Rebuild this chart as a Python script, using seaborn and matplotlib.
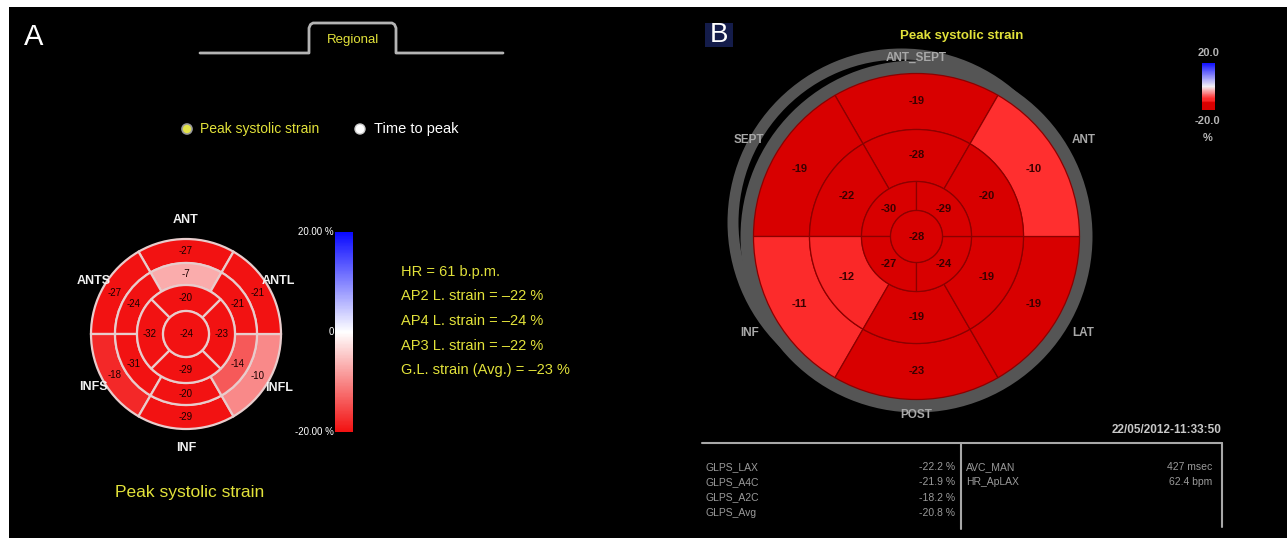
import numpy as np
import matplotlib
matplotlib.use("Agg")
import matplotlib.pyplot as plt
from matplotlib.patches import Wedge, Circle, Rectangle
from matplotlib.colors import LinearSegmentedColormap, Normalize
import seaborn as sns

# ---------------- data ----------------
# Panel A (17-segment bullseye)
A_region_names = ["ANT", "ANTS", "INFS", "INF", "INFL", "ANTL"]
A_basal = [-27, -27, -18, -29, -10, -21]
A_mid = [-7, -24, -31, -20, -14, -21]
A_apical = [-20, -32, -29, -23]
A_apex = [-24]
A_summary_names = ["HR", "AP2 L. strain", "AP4 L. strain", "AP3 L. strain", "G.L. strain (Avg.)"]
A_summary_values = [61, -22, -24, -22, -23]
A_summary_units = ["b.p.m.", "%", "%", "%", "%"]
A_cbar_ticks = ["20.00 %", "0", "-20.00 %"]

# Panel B (17-segment bullseye)
B_region_names = ["ANT_SEPT", "SEPT", "INF", "POST", "LAT", "ANT"]
B_basal = [-19, -19, -11, -23, -19, -10]
B_mid = [-28, -22, -12, -19, -19, -20]
B_apical = [-30, -27, -24, -29]
B_apex = [-28]
B_table_names = ["GLPS_LAX", "GLPS_A4C", "GLPS_A2C", "GLPS_Avg"]
B_table_values = [-22.2, -21.9, -18.2, -20.8]
B_extra_names = ["AVC_MAN", "HR_ApLAX"]
B_extra_values = ["427 msec", "62.4 bpm"]
B_timestamp = "22/05/2012-11:33:50"
B_cbar_ticks = ["20.0", "-20.0", "%"]

VMIN, VMAX = -20, 20

# ---------------- style ----------------
sns.set_theme(style="dark")
plt.rcParams['font.family'] = ['Liberation Sans', 'DejaVu Sans']

W, H = 1287, 538
fig = plt.figure(figsize=(W / 100, H / 100), dpi=100, facecolor="white")
ax = fig.add_axes([0, 0, 1, 1])
ax.set_xlim(0, W)
ax.set_ylim(H, 0)
ax.axis("off")
ax.add_patch(Rectangle((9, 7), W - 9, H - 7, facecolor="black", edgecolor="none", zorder=0))

cmapA = LinearSegmentedColormap.from_list("strainA", [(0, "#f21212"), (0.5, "#ffffff"), (1, "#0a0aff")])
cmapB = LinearSegmentedColormap.from_list(
    "strainB", [(0, "#d80000"), (0.15, "#db0000"), (0.2, "#fa2828"), (0.25, "#ff2e2e"),
                (0.5, "#f4f0f4"), (1, "#1010ff")])
norm = Normalize(VMIN, VMAX, clip=True)

YEL = "#e2e23a"


def pt(cx, cy, r, ang):
    a = np.deg2rad(ang)
    return cx + r * np.cos(a), cy - r * np.sin(a)


def ring(ax, cx, cy, values, centers, half, r_in, r_out, lab_r, cmap, ec, lw, fs, tc, fw):
    for v, c in zip(values, centers):
        a, b = c - half, c + half
        ax.add_patch(Wedge((cx, cy), r_out, -b, -a, width=r_out - r_in,
                           facecolor=cmap(norm(v)), edgecolor=ec, lw=lw, zorder=3))
        x, y = pt(cx, cy, lab_r, c)
        ax.text(x, y, f"{v:d}", ha="center", va="center", fontsize=fs, color=tc,
                fontweight=fw, zorder=6)


six = [90, 150, 210, 270, 330, 30]

# ---------------- Panel A ----------------
ax.text(24, 37, "A", fontsize=21, color="white", ha="left", va="center")
ax.plot([200, 309, 309, 310.5, 313, 392, 394.5, 396, 396, 503],
        [53, 53, 28, 24.5, 23, 23, 24.5, 28, 53, 53], color="#b4b4b4", lw=2, zorder=2)
ax.text(353, 40, "Regional", fontsize=9.5, color=YEL, ha="center", va="center")
ax.add_patch(Circle((187, 129), 5, facecolor="#e4e44a", edgecolor="#9a9a9a", lw=1.2, zorder=3))
ax.text(200, 129.5, "Peak systolic strain", fontsize=10, color=YEL, ha="left", va="center")
ax.add_patch(Circle((360, 129), 5, facecolor="white", edgecolor="#cccccc", lw=1, zorder=3))
ax.text(374, 129.5, "Time to peak", fontsize=10.5, color="white", ha="left", va="center")

cxA, cyA = 186, 334
ecA = "#e8cccc"
ring(ax, cxA, cyA, A_basal, six, 30, 71, 95, 83, cmapA, ecA, 1.6, 7, "#1a0000", "normal")
ring(ax, cxA, cyA, A_mid, six, 30, 49, 71, 60, cmapA, ecA, 1.6, 7, "#1a0000", "normal")
ring(ax, cxA, cyA, A_apical, [90, 180, 270, 0], 45, 23, 49, 36, cmapA, ecA, 1.6, 7, "#1a0000", "normal")
ax.add_patch(Circle((cxA, cyA), 23, facecolor=cmapA(norm(A_apex[0])), edgecolor=ecA, lw=1.6, zorder=3))
ax.text(cxA + 1, cyA, f"{A_apex[0]:d}", ha="center", va="center", fontsize=7, color="#1a0000", zorder=6)

for name, c in zip(A_region_names, six):
    r = 114 if c in (90, 270) else 107
    x, y = pt(cxA, cyA, r, c)
    ax.text(x, y, name, ha="center", va="center", fontsize=9, fontweight="bold",
            color="#f2f2f2", zorder=7)

for i, (n, v, u) in enumerate(zip(A_summary_names, A_summary_values, A_summary_units)):
    vs = f"{v}".replace("-", "\u2013")
    ax.text(401, 272 + i * 24.5, f"{n} = {vs} {u}", fontsize=10.5, color=YEL,
            ha="left", va="center")

ax.text(190, 493, "Peak systolic strain", fontsize=12.5, color=YEL, ha="center", va="center")

# colorbar A
caxA = fig.add_axes([335 / W, (H - 432) / H, 18 / W, 200 / H])
grad = np.linspace(VMAX, VMIN, 200).reshape(-1, 1)
sns.heatmap(grad, ax=caxA, cmap=cmapA, vmin=VMIN, vmax=VMAX, cbar=False,
            xticklabels=False, yticklabels=False)
caxA.set_axis_off()
for t, y in zip(A_cbar_ticks, [232, 332, 432]):
    ax.text(334, y, t, fontsize=7, color="white", ha="right", va="center")

# ---------------- Panel B ----------------
ax.add_patch(Rectangle((705, 23), 28, 24, facecolor="#141c4a", edgecolor="none", zorder=1))
ax.text(719, 35.5, "B", fontsize=20, color="white", ha="center", va="center", zorder=2)
ax.text(962, 36, "Peak systolic strain", fontsize=9.5, color=YEL, fontweight="bold",
        ha="center", va="center")

cxB, cyB = 916.5, 236.5
gray = "#555555"
ax.add_patch(Wedge((cxB - 15, cyB - 14), 174, 0, 360, width=11, facecolor=gray,
                   edgecolor="none", zorder=1))
ax.add_patch(Wedge((cxB, cyB), 176, 0, 360, width=14, facecolor=gray,
                   edgecolor="none", zorder=1.5))
ecB = "#8c0000"
ring(ax, cxB, cyB, B_basal, six, 30, 107, 163, 135, cmapB, ecB, 0.9, 8, "#3a0000", "bold")
ring(ax, cxB, cyB, B_mid, six, 30, 55, 107, 81, cmapB, ecB, 0.9, 8, "#3a0000", "bold")
ring(ax, cxB, cyB, B_apical, [135, 225, 315, 45], 45, 26, 55, 39, cmapB, ecB, 0.9, 8, "#3a0000", "bold")
ax.add_patch(Circle((cxB, cyB), 26, facecolor=cmapB(norm(B_apex[0])), edgecolor=ecB, lw=0.9, zorder=3))
ax.text(cxB, cyB, f"{B_apex[0]:d}", ha="center", va="center", fontsize=8, color="#3a0000",
        fontweight="bold", zorder=6)

for name, c in zip(B_region_names, six):
    r = 179 if c in (90, 270) else 193
    x, y = pt(cxB, cyB, r, c)
    ax.text(x, y, name, ha="center", va="center", fontsize=8.5, fontweight="bold",
            color="#a8a8a8", zorder=7)

# colorbar B
caxB = fig.add_axes([1202 / W, (H - 110) / H, 13 / W, 47 / H])
sns.heatmap(grad, ax=caxB, cmap=cmapB, vmin=VMIN, vmax=VMAX, cbar=False,
            xticklabels=False, yticklabels=False)
caxB.set_axis_off()
for t, (x, y) in zip(B_cbar_ticks, [(1209, 53), (1207, 121), (1208, 138)]):
    ax.text(x, y, t, fontsize=8, color="#b4b4b4", fontweight="bold", ha="center", va="center")

# table B
ax.text(1222, 430, B_timestamp, fontsize=8.5, color="#c8c8c8", fontweight="bold",
        ha="right", va="center")
lc = "#a8a8a8"
ax.plot([702, 1222], [443, 443], color=lc, lw=1.5)
ax.plot([961, 961], [443, 529], color=lc, lw=1.5)
ax.plot([1222, 1222], [443, 527], color=lc, lw=1.5)
tcol = "#9a9a9a"
for i, (n, v) in enumerate(zip(B_table_names, B_table_values)):
    y = 467 + i * 15.3
    ax.text(705, y, n, fontsize=7.5, color=tcol, ha="left", va="center")
    ax.text(955, y, f"{v:.1f} %", fontsize=7.5, color=tcol, ha="right", va="center")
for i, (n, v) in enumerate(zip(B_extra_names, B_extra_values)):
    y = 467 + i * 15.3
    ax.text(966, y, n, fontsize=7.5, color=tcol, ha="left", va="center")
    ax.text(1212, y, v, fontsize=7.5, color=tcol, ha="right", va="center")

fig.savefig("out.png", dpi=100, facecolor="white")
